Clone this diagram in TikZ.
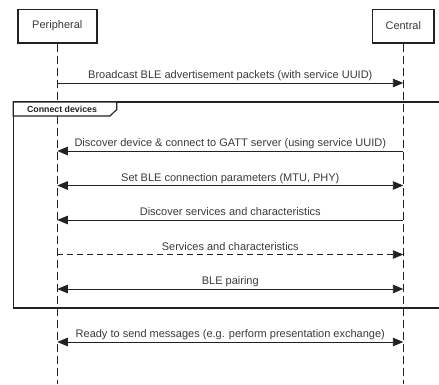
\documentclass[tikz,border=0pt]{standalone}
\usepackage{fontspec}
\setmainfont{Liberation Sans}
\usetikzlibrary{arrows.meta}
\definecolor{ink}{HTML}{222222}
\definecolor{txt}{HTML}{3A3A3A}
\begin{document}
\begin{tikzpicture}[x=1pt,y=-1pt,
  actor/.style={draw=ink,line width=1.5pt,fill=white,minimum height=33.5pt,inner sep=0pt,
    font=\fontsize{11}{13}\selectfont,text=txt},
  lifeline/.style={draw=ink,line width=0.9pt,dash pattern=on 8pt off 4pt},
  msg/.style={draw=ink,line width=0.9pt},
  reply/.style={msg,dash pattern=on 6pt off 4pt},
  toright/.style={-{Triangle[length=10.5pt,width=8.5pt]}},
  toleft/.style={{Triangle[length=10.5pt,width=8.5pt]}-},
  both/.style={{Triangle[length=10.5pt,width=8.5pt]}-{Triangle[length=10.5pt,width=8.5pt]}},
  msglabel/.style={midway,anchor=base,yshift=4.5pt,inner sep=0pt,
    font=\fontsize{11}{13}\selectfont,text=txt},
  framebox/.style={draw=ink,line width=1.5pt},
]
\useasboundingbox (0,0) rectangle (439,384);

% participants
\node[actor,minimum width=79pt] (P) at (57.3,26) {Peripheral};
\node[actor,minimum width=61.3pt] (C) at (403.3,26) {Central};

% lifelines
\coordinate (Pend) at (57.3,384);
\coordinate (Cend) at (403.3,384);
\draw[lifeline] (P.south) -- (Pend);
\draw[lifeline] (C.south) -- (Cend);

% combined fragment "Connect devices" (open to the right)
\draw[framebox] (441,102) -- (13.3,102) -- (13.3,308) -- (441,308);
\filldraw[framebox,fill=white,line width=1.2pt] (13.3,102) -- (116.7,102) -- (116.7,109.5) -- (110,116) -- (13.3,116) -- cycle;
\node[anchor=base,inner sep=0pt,font=\fontsize{8.8}{10}\selectfont\bfseries,text=ink] (frameTitle) at (62,112.5) {Connect devices};

% message anchors on the lifelines
\foreach \i/\y in {1/83,2/151,3/185.5,4/220,5/254.5,6/289,7/342} {
  \coordinate (p\i) at (57.3,\y);
  \coordinate (c\i) at (403.3,\y);
}

% messages
\draw[msg,toright] (p1) -- node[msglabel] (m1) {Broadcast BLE advertisement packets (with service UUID)} (c1);
\draw[msg,toleft] (p2) -- node[msglabel] (m2) {Discover device \& connect to GATT server (using service UUID)} (c2);
\draw[msg,both] (p3) -- node[msglabel] (m3) {Set BLE connection parameters (MTU, PHY)} (c3);
\draw[msg,toleft] (p4) -- node[msglabel] (m4) {Discover services and characteristics} (c4);
\draw[reply,toright] (p5) -- node[msglabel] (m5) {Services and characteristics} (c5);
\draw[msg,both] (p6) -- node[msglabel] (m6) {BLE pairing} (c6);
\draw[msg,both] (p7) -- node[msglabel] (m7) {Ready to send messages (e.g. perform presentation exchange)} (c7);
\end{tikzpicture}
\end{document}
